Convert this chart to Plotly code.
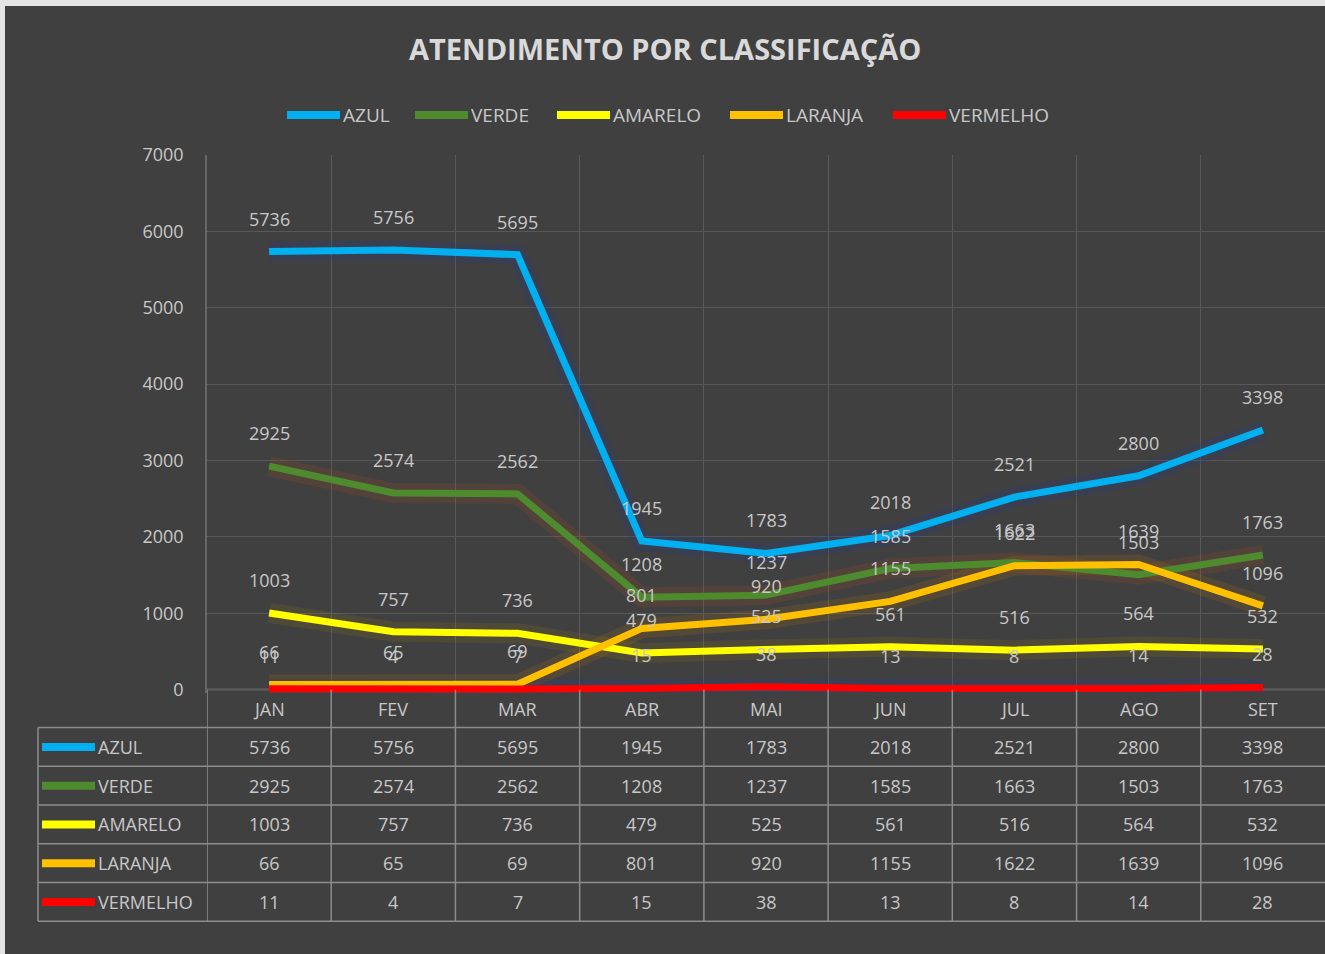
import plotly.graph_objects as go

# ---------------- data ----------------
months = ["JAN", "FEV", "MAR", "ABR", "MAI", "JUN", "JUL", "AGO", "SET"]
series_names = ["AZUL", "VERDE", "AMARELO", "LARANJA", "VERMELHO"]
azul = [5736, 5756, 5695, 1945, 1783, 2018, 2521, 2800, 3398]
verde = [2925, 2574, 2562, 1208, 1237, 1585, 1663, 1503, 1763]
amarelo = [1003, 757, 736, 479, 525, 561, 516, 564, 532]
laranja = [66, 65, 69, 801, 920, 1155, 1622, 1639, 1096]
vermelho = [11, 4, 7, 15, 38, 13, 8, 14, 28]
y_ticks = [0, 1000, 2000, 3000, 4000, 5000, 6000, 7000]

series_values = [azul, verde, amarelo, laranja, vermelho]
colors = ["#00B0F0", "#4E8A2E", "#FFFF00", "#FFC000", "#FF0000"]
glows = ["rgba(40,60,140,0.24)", "rgba(170,80,30,0.18)", "rgba(180,150,0,0.13)",
         "rgba(200,120,0,0.15)", "rgba(40,60,150,0.22)"]

# ---------------- geometry ----------------
W, H = 1325, 954
YMAX, YMIN = 7000, -45
ZERO_PX = 690
T = 155
PH = (ZERO_PX - T) * (YMAX - YMIN) / YMAX
L, R = 207, 0
B = H - T - PH
PW = W - L - R
FONT = "Open Sans, DejaVu Sans, sans-serif"
TXT = "#C8C8C8"
BG = "#404040"
TABLE_LINE = "#8C8C8C"


def px(x):
    return (x - L) / PW


def py(y):
    return (H - B - y) / PH


fig = go.Figure()

# glow traces
for name, vals, g in zip(series_names, series_values, glows):
    fig.add_trace(go.Scatter(x=months, y=vals, mode="lines",
                             line=dict(color=g, width=20),
                             showlegend=False, hoverinfo="skip"))

# main lines
for name, vals, c in zip(series_names, series_values, colors):
    fig.add_trace(go.Scatter(x=months, y=vals, mode="lines", name=name,
                             line=dict(color=c, width=7), showlegend=False))

annotations = []
shapes = []

# background panel with light frame on top/left
shapes.append(dict(type="rect", xref="paper", yref="paper",
                   x0=px(5), x1=px(W + 5), y0=py(H + 5), y1=py(6),
                   fillcolor=BG, line=dict(width=0), layer="below"))
# category axis baseline (top of the data table)
shapes.append(dict(type="line", xref="x", yref="y",
                   x0=-0.5, x1=len(months) - 0.5, y0=0, y1=0,
                   line=dict(color=TABLE_LINE, width=1.5), layer="below"))

# data labels above points
for vals in series_values:
    for m, v in zip(months, vals):
        annotations.append(dict(x=m, y=v, xref="x", yref="y", text=str(v),
                                showarrow=False, yshift=33, yanchor="middle",
                                font=dict(family=FONT, size=18, color=TXT)))

# ---------------- top legend ----------------
legend_x = [287, 415, 557, 730, 893]
legend_y = 115
for name, c, x0 in zip(series_names, colors, legend_x):
    shapes.append(dict(type="line", xref="paper", yref="paper",
                       x0=px(x0), x1=px(x0 + 53), y0=py(legend_y), y1=py(legend_y),
                       line=dict(color=c, width=8)))
    annotations.append(dict(x=px(x0 + 54), y=py(legend_y), xref="paper", yref="paper",
                            text=name, showarrow=False, xanchor="left", yanchor="middle",
                            font=dict(family=FONT, size=19, color=TXT)))

# ---------------- data table ----------------
row_top = 728
row_h = (922 - 728) / 5
table_bottom = 922

for i in range(len(months)):
    shapes.append(dict(type="line", xref="x", yref="paper",
                       x0=i - 0.5, x1=i - 0.5, y0=py(ZERO_PX), y1=py(table_bottom),
                       line=dict(color=TABLE_LINE, width=1.5)))
shapes.append(dict(type="line", xref="paper", yref="paper",
                   x0=px(38), x1=px(38), y0=py(row_top), y1=py(table_bottom),
                   line=dict(color=TABLE_LINE, width=1.5)))
for k in range(len(series_names) + 1):
    yy = row_top + k * row_h
    shapes.append(dict(type="line", xref="paper", yref="paper",
                       x0=px(38), x1=px(W + 2), y0=py(yy), y1=py(yy),
                       line=dict(color=TABLE_LINE, width=1.5)))

for m in months:
    annotations.append(dict(x=m, y=py(709), xref="x", yref="paper", text=m,
                            showarrow=False, yanchor="middle",
                            font=dict(family=FONT, size=18, color=TXT)))

for k, (name, vals, c) in enumerate(zip(series_names, series_values, colors)):
    yc = row_top + (k + 0.5) * row_h
    shapes.append(dict(type="line", xref="paper", yref="paper",
                       x0=px(42), x1=px(95), y0=py(yc), y1=py(yc),
                       line=dict(color=c, width=8)))
    annotations.append(dict(x=px(96), y=py(yc), xref="paper", yref="paper",
                            text=name, showarrow=False, xanchor="left", yanchor="middle",
                            font=dict(family=FONT, size=18, color=TXT)))
    for m, v in zip(months, vals):
        annotations.append(dict(x=m, y=py(yc), xref="x", yref="paper",
                                text=str(v), showarrow=False, yanchor="middle",
                                font=dict(family=FONT, size=18, color=TXT)))

fig.update_layout(
    width=W, height=H,
    margin=dict(l=L, r=R, t=T, b=B, autoexpand=False),
    paper_bgcolor="#E4E4E4",
    plot_bgcolor="rgba(0,0,0,0)",
    title=dict(text="<b>ATENDIMENTO POR CLASSIFICAÇÃO</b>",
               x=0.502, xanchor="center", y=1 - 50 / H, yanchor="middle",
               font=dict(family=FONT, size=29, color="#D9D9D9")),
    showlegend=False,
    xaxis=dict(type="category", range=[-0.5, len(months) - 0.5],
               showgrid=True, tickson="boundaries", gridcolor="#585858",
               gridwidth=1.2, showticklabels=False, ticks="",
               showline=False, zeroline=False, fixedrange=True),
    yaxis=dict(range=[YMIN, YMAX], tickvals=y_ticks,
               showgrid=True, gridcolor="#585858", gridwidth=1.2,
               showline=True, linecolor="#666666", linewidth=1.5,
               zeroline=False, ticklabelstandoff=18,
               tickfont=dict(family=FONT, size=18, color=TXT)),
    shapes=shapes,
    annotations=annotations,
)

fig.write_html("out.html",
               config={"displayModeBar": False},
               post_script="document.body.style.margin='0px';")
